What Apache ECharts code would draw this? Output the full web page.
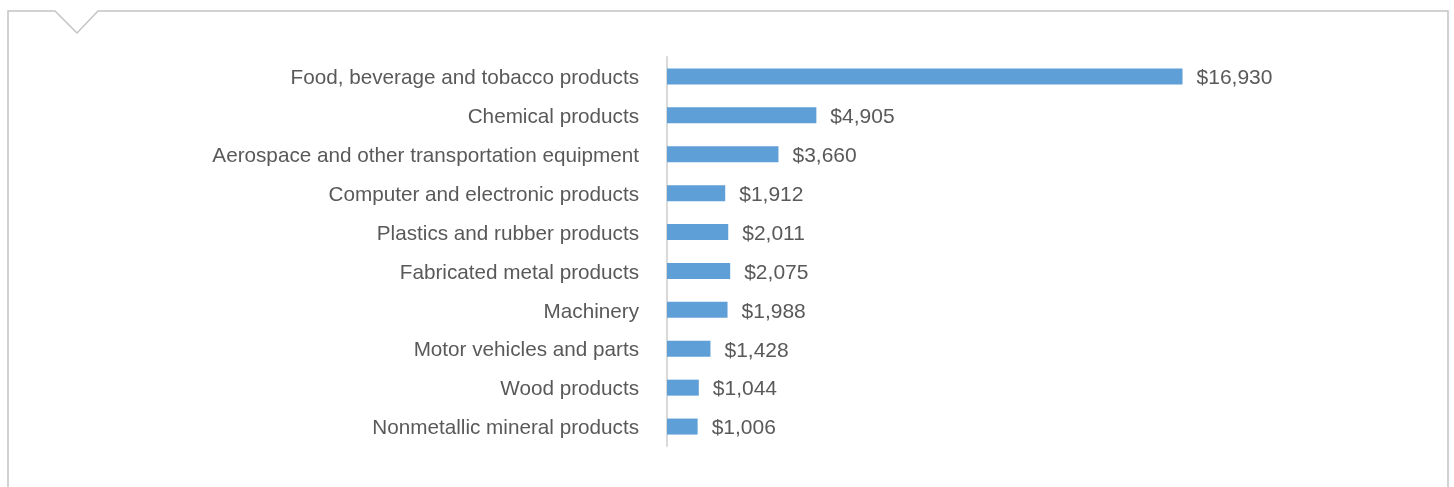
<!DOCTYPE html>
<html>
<head>
<meta charset="utf-8">
<script src="https://cdn.jsdelivr.net/npm/echarts@6/dist/echarts.min.js"></script>
<style>
html,body{margin:0;padding:0;background:#fff;}
#chart{width:1454px;height:487px;}
</style>
</head>
<body>
<div id="chart"></div>
<script>
const categories = [
  "Food, beverage and tobacco products",
  "Chemical products",
  "Aerospace and other transportation equipment",
  "Computer and electronic products",
  "Plastics and rubber products",
  "Fabricated metal products",
  "Machinery",
  "Motor vehicles and parts",
  "Wood products",
  "Nonmetallic mineral products"
];
const values = [16930, 4905, 3660, 1912, 2011, 2075, 1988, 1428, 1044, 1006];

const chart = echarts.init(document.getElementById('chart'), null, {renderer: 'canvas'});
const font = 'Liberation Sans, Arial, sans-serif';
chart.setOption({
  animation: false,
  graphic: [{
    type: 'polyline',
    shape: { points: [[8, 490], [8, 11], [55, 11], [77, 33], [98, 11], [1448, 11], [1448, 490]] },
    style: { stroke: '#c4c4c4', lineWidth: 1.5, fill: null }
  }],
  grid: { left: 667, top: 57, width: 609, height: 389, containLabel: false },
  xAxis: {
    type: 'value', min: 0, max: 20000, show: false,
    splitLine: { show: false }
  },
  yAxis: {
    type: 'category', data: categories, inverse: true,
    axisLine: { show: true, lineStyle: { color: '#d9d9d9', width: 2 } },
    axisTick: { show: false },
    axisLabel: {
      margin: 28,
      formatter: v => '{a|' + v + '}',
      rich: { a: { color: '#595959', fontSize: 20.7, fontFamily: font, padding: [4, 0, 0, 0] } }
    }
  },
  series: [{
    type: 'bar', data: values, barWidth: 16,
    itemStyle: { color: '#5f9fd7' },
    label: {
      show: true, position: 'right', distance: 14, offset: [0, 2],
      color: '#595959', fontSize: 21, fontFamily: font,
      formatter: p => '$' + p.value.toLocaleString('en-US')
    }
  }]
});
</script>
</body>
</html>
